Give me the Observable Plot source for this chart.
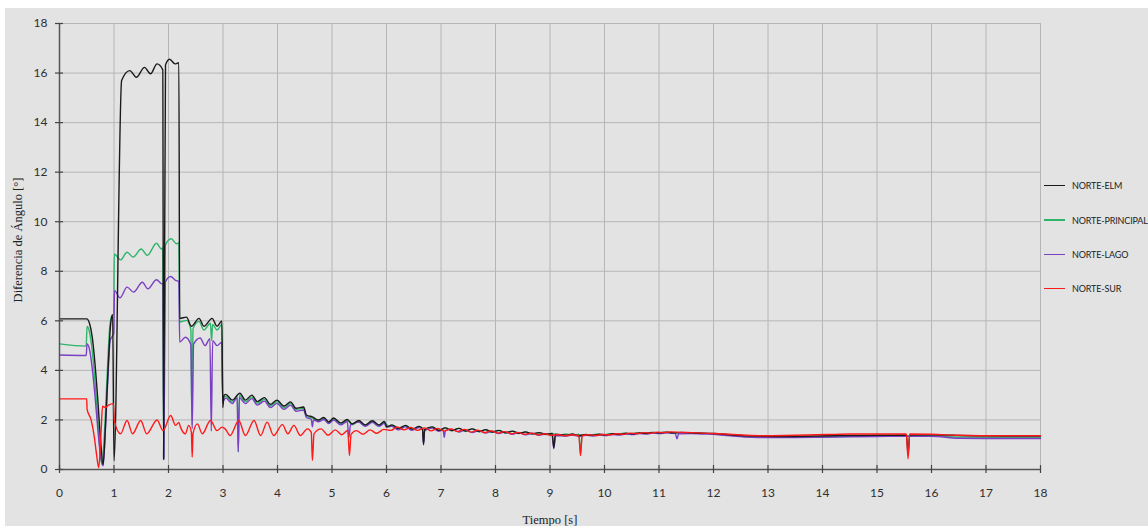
<!DOCTYPE html>
<html>
<head>
<meta charset="utf-8">
<script src="https://cdn.jsdelivr.net/npm/d3@7"></script>
<script src="https://cdn.jsdelivr.net/npm/@observablehq/plot@0.6"></script>
<style>
  body { margin:0; background:#fff; }
  #wrap { position:relative; width:1148px; height:526px; overflow:hidden; }
  #bg { position:absolute; left:5px; top:8px; right:0; bottom:0; background:#e3e3e3; }
  #chart { position:absolute; left:0; top:0; }
  .ttl { position:absolute; font-family:"Liberation Serif","Times New Roman",serif; font-size:12.5px; color:#222; white-space:nowrap; }
  .leg { position:absolute; left:1044px; font-family:Lato,sans-serif; font-size:9px; letter-spacing:-0.15px; color:#222; white-space:nowrap; display:flex; align-items:center; }
  .leg span.sw { display:inline-block; width:21px; margin-right:7px; }
</style>
</head>
<body>
<div id="wrap">
  <div id="bg"></div>
  <div id="chart"></div>
  <div class="ttl" style="left:550px;top:520px;transform:translate(-50%,-50%)">Tiempo [s]</div>
  <div class="ttl" style="left:18px;top:240px;transform:translate(-50%,-50%) rotate(-90deg)">Diferencia de Ángulo [°]</div>
  <div id="legend"></div>
</div>
<script>
const seriesNames = ["NORTE-ELM", "NORTE-PRINCIPAL", "NORTE-LAGO", "NORTE-SUR"];
const seriesColors = ["#1a1a1a", "#2fb56a", "#7b3fc4", "#ff1a1a"];
const xTicks = [0,1,2,3,4,5,6,7,8,9,10,11,12,13,14,15,16,17,18];
const yTicks = [0,2,4,6,8,10,12,14,16,18];

const norteElm = [
[0,6.08],[0.5,6.08],[0.55,5.9],[0.6,5.35],[0.65,4.3],[0.7,2.9],[0.75,1.3],[0.8,0.2],[0.84,1.6],[0.89,4.0],[0.94,5.9],[0.975,6.25],[1.0,0.35],[1.14,15.7],[1.29,16.1],[1.41,15.83],[1.56,16.23],[1.67,15.97],[1.79,16.37],[1.895,16.13],[1.91,0.4],[1.945,16.33],[2.02,16.56],[2.12,16.37],[2.19,16.42],[2.205,6.1],[2.33,6.15],[2.42,5.78],[2.56,6.1],[2.65,5.78],[2.8,6.1],[2.89,5.78],[2.98,6.0],[2.995,2.5],[3.02,3.0],[3.05,3.03],[3.17,2.8],[3.31,3.08],[3.41,2.8],[3.53,3.0],[3.63,2.74],[3.76,2.9],[3.87,2.63],[3.99,2.8],[4.12,2.56],[4.24,2.73],[4.34,2.47],[4.48,2.52],[4.53,2.2],[4.64,2.12],[4.75,2.0],[4.85,2.1],[4.94,1.92],[5.03,2.08],[5.16,1.88],[5.28,2.02],[5.37,1.84],[5.49,1.98],[5.61,1.8],[5.74,1.97],[5.86,1.8],[5.96,1.94],[6.01,1.72],[6.1,1.8],[6.22,1.66],[6.35,1.78],[6.47,1.63],[6.6,1.74],[6.66,1.65],[6.68,1.0],[6.7,1.62],[6.84,1.72],[6.96,1.58],[7.08,1.68],[7.2,1.57],[7.33,1.66],[7.45,1.55],[7.57,1.64],[7.7,1.53],[7.82,1.61],[7.94,1.51],[8.06,1.58],[8.19,1.48],[8.31,1.55],[8.43,1.46],[8.55,1.52],[8.68,1.44],[8.8,1.49],[8.92,1.42],[9.04,1.45],[9.07,0.88],[9.1,1.42],[9.29,1.38],[9.41,1.43],[9.53,1.37],[9.66,1.41],[9.78,1.38],[9.9,1.42],[10.02,1.4],[10.15,1.44],[10.27,1.42],[10.4,1.46],[10.52,1.44],[10.64,1.48],[10.77,1.46],[10.89,1.5],[11.01,1.48],[11.14,1.51],[11.26,1.48],[11.4,1.5],[11.6,1.48],[11.8,1.47],[12.0,1.45],[12.2,1.42],[12.4,1.38],[12.6,1.36],[12.9,1.34],[13.3,1.33],[13.7,1.34],[14.1,1.36],[14.5,1.37],[15.0,1.38],[15.54,1.39],[15.57,0.6],[15.6,1.39],[16.0,1.4],[16.4,1.38],[16.8,1.36],[17.4,1.35],[18,1.35]
];

const nortePrincipal = [
[0,5.07],[0.49,4.98],[0.505,5.77],[0.55,5.55],[0.6,4.8],[0.65,3.6],[0.7,2.1],[0.75,0.6],[0.78,0.2],[0.82,1.3],[0.87,3.6],[0.92,5.7],[0.96,6.2],[0.995,6.25],[1.005,8.7],[1.12,8.46],[1.24,8.77],[1.35,8.57],[1.5,8.9],[1.61,8.64],[1.78,9.13],[1.87,8.9],[1.895,8.95],[1.91,0.5],[1.94,9.04],[2.05,9.31],[2.15,9.11],[2.19,9.15],[2.205,5.95],[2.33,6.02],[2.41,5.65],[2.43,1.78],[2.45,5.68],[2.56,5.98],[2.65,5.63],[2.77,5.9],[2.79,5.2],[2.81,5.85],[2.89,5.63],[2.98,5.85],[2.995,2.9],[3.05,2.95],[3.17,2.72],[3.26,2.97],[3.28,0.7],[3.3,3.0],[3.41,2.73],[3.53,2.93],[3.63,2.67],[3.76,2.83],[3.87,2.57],[3.99,2.74],[4.12,2.5],[4.24,2.67],[4.34,2.42],[4.48,2.47],[4.53,2.15],[4.64,2.07],[4.75,1.97],[4.85,2.06],[4.94,1.88],[5.03,2.04],[5.16,1.84],[5.28,1.98],[5.37,1.8],[5.49,1.95],[5.61,1.77],[5.74,1.94],[5.86,1.77],[5.96,1.9],[6.05,1.72],[6.1,1.78],[6.22,1.64],[6.35,1.76],[6.47,1.62],[6.6,1.73],[6.72,1.6],[6.84,1.71],[6.96,1.58],[7.08,1.68],[7.2,1.56],[7.33,1.66],[7.45,1.54],[7.57,1.63],[7.7,1.52],[7.82,1.6],[7.94,1.5],[8.06,1.57],[8.19,1.47],[8.31,1.54],[8.43,1.45],[8.55,1.51],[8.68,1.43],[8.8,1.48],[8.92,1.41],[9.04,1.45],[9.16,1.39],[9.29,1.43],[9.41,1.38],[9.53,1.42],[9.56,0.65],[9.59,1.4],[9.72,1.39],[9.84,1.42],[9.97,1.4],[10.1,1.44],[10.22,1.42],[10.35,1.46],[10.47,1.44],[10.6,1.48],[10.72,1.46],[10.85,1.5],[10.97,1.48],[11.1,1.5],[11.3,1.47],[11.5,1.48],[11.7,1.46],[11.9,1.45],[12.1,1.42],[12.4,1.37],[12.7,1.33],[13.0,1.31],[13.5,1.31],[14.0,1.32],[14.5,1.34],[15.0,1.35],[15.5,1.36],[16.0,1.36],[16.5,1.31],[17,1.3],[18,1.3]
];

const norteLago = [
[0,4.62],[0.49,4.6],[0.505,5.07],[0.55,4.85],[0.6,4.1],[0.65,3.0],[0.7,1.7],[0.75,0.6],[0.8,0.15],[0.84,1.5],[0.89,3.8],[0.93,5.2],[0.97,5.38],[0.995,5.5],[1.01,7.22],[1.11,6.93],[1.24,7.36],[1.36,7.16],[1.52,7.56],[1.62,7.29],[1.78,7.66],[1.88,7.49],[1.9,7.5],[1.915,0.44],[1.94,7.56],[2.04,7.79],[2.13,7.63],[2.19,7.59],[2.205,5.14],[2.31,5.34],[2.41,5.04],[2.435,1.65],[2.46,5.06],[2.58,5.31],[2.67,5.0],[2.76,5.28],[2.785,1.55],[2.81,5.2],[2.89,5.0],[2.98,5.14],[2.995,2.75],[3.05,2.88],[3.17,2.66],[3.26,2.9],[3.28,0.72],[3.3,2.9],[3.41,2.66],[3.53,2.86],[3.63,2.6],[3.76,2.76],[3.87,2.5],[3.99,2.67],[4.12,2.43],[4.24,2.6],[4.34,2.35],[4.48,2.4],[4.53,2.1],[4.62,2.03],[4.64,1.72],[4.66,2.0],[4.75,1.93],[4.85,2.02],[4.94,1.85],[5.03,2.0],[5.16,1.8],[5.28,1.94],[5.31,1.3],[5.34,1.8],[5.49,1.92],[5.61,1.74],[5.74,1.9],[5.86,1.74],[5.96,1.86],[6.0,1.7],[6.05,1.75],[6.1,1.74],[6.22,1.6],[6.35,1.72],[6.47,1.58],[6.6,1.69],[6.66,1.6],[6.68,1.05],[6.7,1.57],[6.84,1.67],[6.96,1.54],[7.04,1.6],[7.06,1.3],[7.08,1.58],[7.2,1.62],[7.33,1.51],[7.45,1.6],[7.57,1.49],[7.7,1.57],[7.82,1.47],[7.94,1.55],[8.06,1.45],[8.19,1.52],[8.31,1.42],[8.43,1.49],[8.55,1.4],[8.68,1.46],[8.8,1.38],[8.92,1.43],[9.04,1.36],[9.07,0.84],[9.1,1.37],[9.29,1.35],[9.41,1.39],[9.53,1.34],[9.66,1.38],[9.78,1.35],[9.9,1.39],[10.02,1.37],[10.15,1.41],[10.27,1.39],[10.4,1.43],[10.52,1.41],[10.64,1.45],[10.77,1.43],[10.89,1.47],[11.01,1.45],[11.14,1.48],[11.3,1.45],[11.33,1.24],[11.36,1.44],[11.6,1.45],[11.8,1.43],[12.0,1.42],[12.2,1.38],[12.4,1.34],[12.7,1.3],[13.0,1.29],[13.5,1.29],[14.0,1.3],[14.5,1.32],[15.0,1.33],[15.5,1.34],[16.0,1.34],[16.5,1.26],[17,1.25],[18,1.25]
];

const norteSur = [
[0,2.85],[0.5,2.85],[0.505,2.45],[0.58,2.0],[0.64,1.3],[0.68,0.6],[0.72,0.07],[0.76,1.4],[0.79,2.55],[0.84,2.5],[0.9,2.6],[0.99,2.66],[1.005,1.98],[1.12,1.44],[1.24,1.98],[1.34,1.44],[1.49,1.98],[1.6,1.44],[1.79,2.0],[1.9,1.57],[2.04,2.18],[2.13,1.78],[2.19,1.9],[2.22,1.71],[2.31,1.44],[2.37,1.78],[2.42,1.5],[2.435,0.5],[2.45,1.45],[2.53,1.84],[2.62,1.44],[2.77,1.98],[2.89,1.57],[2.98,1.71],[3.04,1.64],[3.13,1.37],[3.29,1.98],[3.41,1.37],[3.57,1.98],[3.69,1.37],[3.81,1.91],[3.93,1.37],[4.09,1.81],[4.19,1.44],[4.3,1.78],[4.42,1.37],[4.55,1.64],[4.62,1.5],[4.64,0.36],[4.67,1.44],[4.8,1.64],[4.93,1.38],[5.06,1.6],[5.18,1.4],[5.29,1.58],[5.32,0.56],[5.35,1.42],[5.45,1.57],[5.57,1.42],[5.7,1.6],[5.82,1.46],[5.95,1.62],[6.08,1.58],[6.2,1.72],[6.32,1.6],[6.45,1.7],[6.57,1.58],[6.7,1.68],[6.82,1.56],[6.94,1.66],[7.06,1.55],[7.18,1.64],[7.3,1.53],[7.43,1.62],[7.55,1.51],[7.67,1.59],[7.8,1.49],[7.92,1.56],[8.04,1.47],[8.16,1.53],[8.29,1.44],[8.41,1.5],[8.53,1.42],[8.66,1.47],[8.78,1.4],[8.9,1.44],[9.02,1.38],[9.15,1.41],[9.27,1.36],[9.4,1.4],[9.53,1.36],[9.56,0.56],[9.59,1.37],[9.72,1.4],[9.84,1.37],[9.97,1.41],[10.1,1.4],[10.22,1.44],[10.35,1.42],[10.47,1.47],[10.6,1.45],[10.72,1.49],[10.85,1.47],[10.97,1.51],[11.1,1.49],[11.22,1.52],[11.4,1.5],[11.6,1.49],[11.8,1.47],[12.0,1.45],[12.3,1.42],[12.6,1.38],[12.9,1.36],[13.3,1.37],[13.7,1.39],[14.1,1.41],[14.5,1.43],[15.0,1.43],[15.54,1.43],[15.57,0.43],[15.6,1.43],[16.0,1.42],[16.5,1.38],[17,1.36],[18,1.36]
];

const seriesData = [norteElm, nortePrincipal, norteLago, norteSur];
const drawOrder = [1, 2, 0, 3];

const lineMarks = drawOrder.map(i => Plot.line(seriesData[i], {
  x: d => d[0], y: d => d[1], stroke: seriesColors[i], strokeWidth: 1.4, curve: "monotone-x"
}));

const chart = Plot.plot({
  width: 1148, height: 526,
  marginLeft: 59, marginRight: 108, marginTop: 23, marginBottom: 57,
  x: {domain: [0, 18]},
  y: {domain: [0, 18]},
  style: {background: "transparent", fontFamily: "Lato, sans-serif", fontSize: "12px", color: "#2e2e2e"},
  marks: [
    Plot.ruleX(xTicks, {stroke: "#b6b6b6", strokeWidth: 1}),
    Plot.ruleY(yTicks, {stroke: "#b6b6b6", strokeWidth: 1}),
    ...lineMarks,
    Plot.ruleX([0], {stroke: "#555", strokeWidth: 1.5}),
    Plot.ruleY([0], {stroke: "#555", strokeWidth: 1.5}),
    Plot.ruleX(xTicks, {y1: 0, y2: 0, insetTop: -4, insetBottom: -4, stroke: "#444", strokeWidth: 1.2}),
    Plot.ruleY(yTicks, {x1: 0, x2: 0, insetLeft: -4, insetRight: -4, stroke: "#444", strokeWidth: 1.2}),
    Plot.axisX({ticks: xTicks, tickSize: 0, tickPadding: 19, tickFormat: d => String(d), label: null}),
    Plot.axisY({ticks: yTicks, tickSize: 0, tickPadding: 12, tickFormat: d => String(d), label: null})
  ]
});
document.getElementById("chart").appendChild(chart);

const legendTops = [185, 220, 254, 288];
const legend = document.getElementById("legend");
seriesNames.forEach((name, i) => {
  const div = document.createElement("div");
  div.className = "leg";
  div.style.top = (legendTops[i] - 7) + "px";
  div.style.height = "14px";
  const sw = document.createElement("span");
  sw.className = "sw";
  sw.style.borderTop = (i === 1 ? 2 : 1.5) + "px solid " + seriesColors[i];
  div.appendChild(sw);
  div.appendChild(document.createTextNode(name));
  legend.appendChild(div);
});
</script>
</body>
</html>
